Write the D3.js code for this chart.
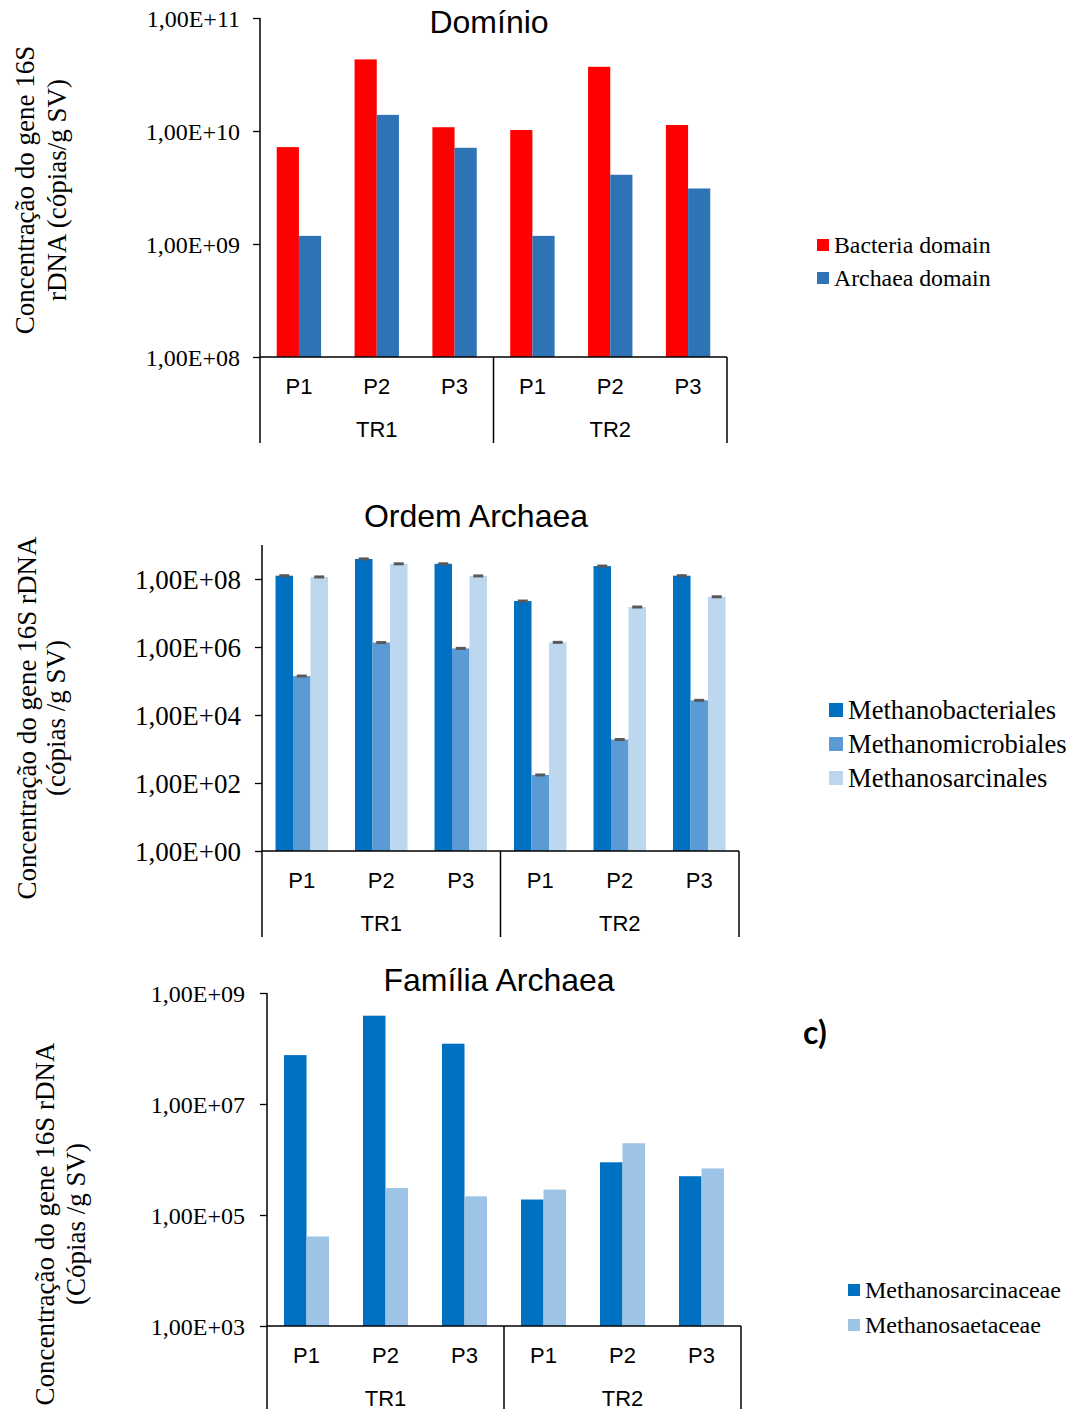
<!DOCTYPE html>
<html>
<head>
<meta charset="utf-8">
<script src="https://cdn.jsdelivr.net/npm/d3@7"></script>
<style>
  html, body { margin: 0; padding: 0; background: #fff; }
  svg { display: block; }
</style>
</head>
<body>
<svg id="fig" width="1077" height="1409"></svg>
<script>
// Categories shared by the three panels
const groups = ["TR1", "TR2"];
const points = ["P1", "P2", "P3"];

// Panel 1: domain level
const domainSeriesNames = ["Bacteria domain", "Archaea domain"];
const bacteriaDomain = [7.2e9, 4.3e10, 1.08e10, 1.02e10, 3.7e10, 1.13e10];
const archaeaDomain  = [1.18e9, 1.39e10, 7.1e9, 1.18e9, 4.1e9, 3.1e9];
const domainTicks = [1e8, 1e9, 1e10, 1e11];
const domainTickLabels = ["1,00E+08", "1,00E+09", "1,00E+10", "1,00E+11"];

// Panel 2: order level
const orderSeriesNames = ["Methanobacteriales", "Methanomicrobiales", "Methanosarcinales"];
const methanobacteriales = [1.25e8, 3.9e8, 2.8e8, 2.25e7, 2.4e8, 1.25e8];
const methanomicrobiales = [1.4e5, 1.35e6, 9.1e5, 172, 1.9e3, 2.7e4];
const methanosarcinales  = [1.15e8, 2.8e8, 1.23e8, 1.37e6, 1.5e7, 3.0e7];
const orderTicks = [1, 1e2, 1e4, 1e6, 1e8];
const orderTickLabels = ["1,00E+00", "1,00E+02", "1,00E+04", "1,00E+06", "1,00E+08"];

// Panel 3: family level
const familySeriesNames = ["Methanosarcinaceae", "Methanosaetaceae"];
const methanosarcinaceae = [7.6e7, 3.9e8, 1.22e8, 1.9e5, 8.9e5, 5.0e5];
const methanosaetaceae   = [4.1e4, 3.06e5, 2.17e5, 2.87e5, 1.96e6, 6.9e5];
const familyTicks = [1e3, 1e5, 1e7, 1e9];
const familyTickLabels = ["1,00E+03", "1,00E+05", "1,00E+07", "1,00E+09"];

const SERIF = "'Liberation Serif', 'Times New Roman', serif";
const SANS = "'Liberation Sans', Arial, sans-serif";

const svg = d3.select("#fig");

function drawPanel(cfg) {
  const g = svg.append("g");
  const cats = [];
  groups.forEach(gr => points.forEach(p => cats.push(gr + "|" + p)));

  const x = d3.scaleBand().domain(cats).range([cfg.x0, cfg.x1]).padding(0);
  const y = d3.scaleLog().domain(cfg.yDomain).range([cfg.yBase, cfg.yTop]);

  const groupW = x.bandwidth() * cfg.groupFrac;
  const inner = d3.scaleBand().domain(cfg.series.map((s, i) => i))
    .range([-groupW / 2, groupW / 2]).padding(0);

  // bars
  cfg.series.forEach((s, si) => {
    g.append("g").selectAll("rect").data(s.values).join("rect")
      .attr("x", (d, i) => x(cats[i]) + x.bandwidth() / 2 + inner(si))
      .attr("y", d => y(d))
      .attr("width", inner.bandwidth())
      .attr("height", d => cfg.yBase - y(d))
      .attr("fill", s.color);
    if (cfg.caps) {
      g.append("g").selectAll("rect").data(s.values).join("rect")
        .attr("x", (d, i) => x(cats[i]) + x.bandwidth() / 2 + inner(si) + inner.bandwidth() / 2 - 5)
        .attr("y", d => y(d) - 1.5)
        .attr("width", 10)
        .attr("height", 3)
        .attr("fill", "#595959");
    }
  });

  // y axis
  const yAxis = d3.axisLeft(y).tickValues(cfg.ticks)
    .tickFormat((d, i) => cfg.tickLabels[i]).tickSize(7).tickSizeOuter(0);
  const ay = g.append("g").attr("transform", `translate(${cfg.x0},0)`).call(yAxis);
  ay.select(".domain").remove();
  ay.selectAll(".tick line").attr("stroke", "#000").attr("stroke-width", 1.3);
  ay.selectAll(".tick text")
    .attr("x", cfg.tickDx)
    .attr("dy", "0.35em")
    .style("font-family", SERIF)
    .style("font-size", cfg.tickFont + "px")
    .attr("fill", "#000");

  // axis lines: left spine, baseline, group separators
  g.append("line").attr("x1", cfg.x0).attr("x2", cfg.x0)
    .attr("y1", cfg.yTop).attr("y2", cfg.bottom)
    .attr("stroke", "#000").attr("stroke-width", 1.5);
  g.append("line").attr("x1", cfg.x0).attr("x2", cfg.x1)
    .attr("y1", cfg.yBase).attr("y2", cfg.yBase)
    .attr("stroke", "#000").attr("stroke-width", 1.5);
  const sepX = [x(groups[1] + "|" + points[0]), cfg.x1];
  sepX.forEach(sx => {
    g.append("line").attr("x1", sx).attr("x2", sx)
      .attr("y1", cfg.yBase).attr("y2", cfg.bottom)
      .attr("stroke", "#000").attr("stroke-width", 1.5);
  });

  // category labels
  g.append("g").selectAll("text").data(cats).join("text")
    .attr("x", d => x(d) + x.bandwidth() / 2)
    .attr("y", cfg.yBase + 29)
    .attr("text-anchor", "middle")
    .attr("dominant-baseline", "central")
    .style("font-family", SANS).style("font-size", "22px")
    .text(d => d.split("|")[1]);
  g.append("g").selectAll("text").data(groups).join("text")
    .attr("x", gr => x(gr + "|" + points[1]) + x.bandwidth() / 2)
    .attr("y", cfg.yBase + 72)
    .attr("text-anchor", "middle")
    .attr("dominant-baseline", "central")
    .style("font-family", SANS).style("font-size", "22px")
    .text(gr => gr);

  // title
  g.append("text")
    .attr("x", cfg.titleX).attr("y", cfg.titleY)
    .attr("text-anchor", "middle").attr("dominant-baseline", "central")
    .style("font-family", SANS).style("font-size", "32px")
    .text(cfg.title);

  // y-axis title (two lines)
  cfg.yTitle.forEach((line, li) => {
    g.append("text")
      .attr("transform", `translate(${cfg.yTitleX[li]},${cfg.yTitleY}) rotate(-90)`)
      .attr("text-anchor", "middle").attr("dominant-baseline", "central")
      .style("font-family", SERIF).style("font-size", "27px")
      .text(line);
  });

  // legend
  cfg.series.forEach((s, si) => {
    const ly = cfg.legendY + si * cfg.legendStep;
    g.append("rect")
      .attr("x", cfg.legendX).attr("y", ly - cfg.legendBox / 2)
      .attr("width", cfg.legendBox).attr("height", cfg.legendBox)
      .attr("fill", s.color);
    g.append("text")
      .attr("x", cfg.legendX + cfg.legendBox + 5).attr("y", ly)
      .attr("dominant-baseline", "central")
      .style("font-family", SERIF).style("font-size", cfg.legendFont + "px")
      .text(s.name);
  });
}

drawPanel({
  x0: 260, x1: 727, yTop: 18, yBase: 357, bottom: 443,
  yDomain: [1e8, 1e11], ticks: domainTicks, tickLabels: domainTickLabels,
  tickFont: 24, tickDx: -20,
  groupFrac: 0.57, caps: false,
  series: [
    { name: domainSeriesNames[0], values: bacteriaDomain, color: "#FF0000" },
    { name: domainSeriesNames[1], values: archaeaDomain, color: "#2E74B5" }
  ],
  title: "Domínio", titleX: 489, titleY: 22,
  yTitle: ["Concentração do gene 16S", "rDNA (cópias/g SV)"], yTitleX: [25, 57], yTitleY: 190,
  legendX: 817, legendY: 245, legendStep: 33, legendBox: 12, legendFont: 23.8
});

drawPanel({
  x0: 262, x1: 739, yTop: 545, yBase: 851, bottom: 937,
  yDomain: [1, 1e9], ticks: orderTicks, tickLabels: orderTickLabels,
  tickFont: 27, tickDx: -21,
  groupFrac: 0.66, caps: true,
  series: [
    { name: orderSeriesNames[0], values: methanobacteriales, color: "#0070C0" },
    { name: orderSeriesNames[1], values: methanomicrobiales, color: "#5B9BD5" },
    { name: orderSeriesNames[2], values: methanosarcinales, color: "#BDD7EE" }
  ],
  title: "Ordem Archaea", titleX: 476, titleY: 516,
  yTitle: ["Concentração do gene 16S rDNA", "(cópias /g SV)"], yTitleX: [27, 56], yTitleY: 718,
  legendX: 829, legendY: 710, legendStep: 34, legendBox: 14, legendFont: 26.6
});

drawPanel({
  x0: 267, x1: 741, yTop: 993, yBase: 1326, bottom: 1409,
  yDomain: [1e3, 1e9], ticks: familyTicks, tickLabels: familyTickLabels,
  tickFont: 24, tickDx: -22,
  groupFrac: 0.57, caps: false,
  series: [
    { name: familySeriesNames[0], values: methanosarcinaceae, color: "#0070C0" },
    { name: familySeriesNames[1], values: methanosaetaceae, color: "#9DC3E6" }
  ],
  title: "Família Archaea", titleX: 499, titleY: 980,
  yTitle: ["Concentração do gene 16S rDNA", "(Cópias /g SV)"], yTitleX: [45, 76], yTitleY: 1224,
  legendX: 848, legendY: 1290, legendStep: 35, legendBox: 12, legendFont: 24
});

// panel letter
svg.append("text")
  .attr("x", 803).attr("y", 1031)
  .attr("dominant-baseline", "central")
  .style("font-family", "Lato, 'Open Sans', sans-serif")
  .style("font-weight", "bold").style("font-size", "32px")
  .text("c)");
</script>
</body>
</html>
